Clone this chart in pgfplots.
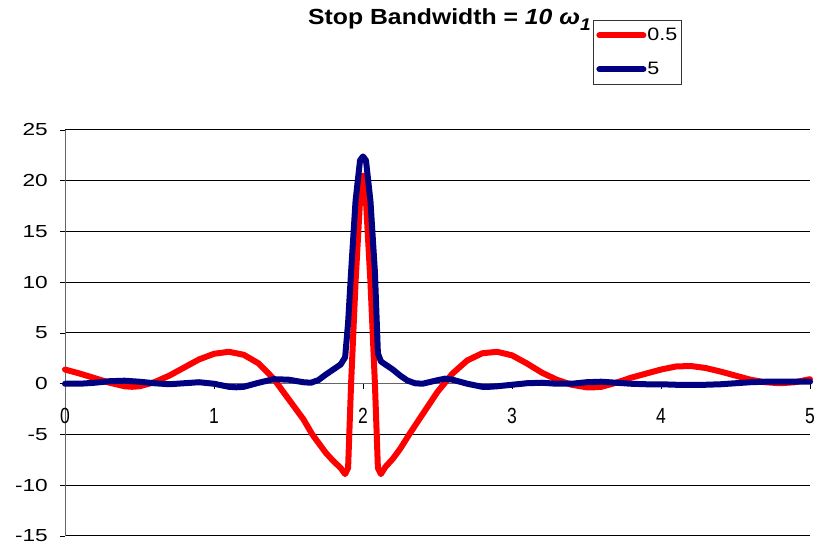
\documentclass[border=0pt]{standalone}
\usepackage{graphicx}
\usepackage{pgfplots}
\pgfplotsset{compat=1.18}
\usepackage{fontspec}
\setmainfont{Liberation Sans}
\definecolor{cred}{RGB}{255,0,0}
\definecolor{cblue}{RGB}{0,0,128}
\begin{document}
\begin{tikzpicture}
\path[use as bounding box] (0,0) rectangle (821bp,545bp);
\begin{axis}[
  at={(65bp,9bp)}, anchor=south west,
  scale only axis, width=745bp, height=406bp,
  xmin=0, xmax=5, ymin=-15, ymax=25,
  axis x line=middle, axis y line=left,
  hide obscured x ticks=false,
  axis line style={draw=gray!80!black, line width=1bp, -},
  xtick={0,1,2,3,4,5}, ytick={-15,-10,...,25},
  tick align=outside, major tick length=5bp,
  tick style={draw=black, line width=0.8bp},
  ymajorgrids, grid style={black, line width=1bp},
  /pgf/number format/assume math mode=true,
  xticklabel={\scalebox{0.8}[1]{\axisdefaultticklabel}},
  yticklabel={\scalebox{1.3}[1]{\axisdefaultticklabel}},
  xticklabel style={font=\fontsize{22}{26}\selectfont, yshift=-19bp, inner sep=0pt, anchor=north},
  yticklabel style={font=\fontsize{17.5}{20}\selectfont, inner sep=0pt, xshift=-12bp, anchor=east},
  title={\scalebox{1.13}[1]{\fontsize{22}{26}\selectfont\bfseries Stop Bandwidth = \itshape 10 \char"03C9\raisebox{-0.28em}{\fontsize{17}{20}\selectfont 1}}},
  title style={at={(0.3262,1.2463)}, anchor=base west, inner sep=0pt},
  legend style={at={(0.7087,1.271)}, anchor=north west, draw=black!80, line width=0.8bp,
    inner xsep=3bp, inner ysep=7bp, row sep=18bp, column sep=0bp,
    nodes={inner sep=1bp},
    font=\fontsize{18}{20}\selectfont, cells={anchor=west}},
  legend image code/.code={\draw[#1, line width=6bp, line cap=round] (3bp,0bp) -- (47bp,0bp);},
  every axis plot/.append style={line width=6bp, line join=round, line cap=round},
  clip=false,
]
\addplot[cred] coordinates {
(0,1.4) (0.1,1.0) (0.2,0.55) (0.3,0.1) (0.4,-0.25) (0.45,-0.3) (0.5,-0.25) (0.6,0.15) (0.7,0.8) (0.8,1.6) (0.9,2.4) (1.0,2.95) (1.1,3.15) (1.2,2.85) (1.3,2.0) (1.4,0.5) (1.5,-1.5) (1.6,-3.5) (1.66,-5) (1.7,-5.8) (1.75,-6.8) (1.8,-7.6) (1.85,-8.3) (1.88,-8.9) (1.9,-8.3) (1.92,0) (1.95,10) (1.98,18) (2.0,20.5) (2.02,18) (2.05,10) (2.08,0) (2.1,-8.3) (2.12,-8.9) (2.15,-8.2) (2.2,-7.4) (2.25,-6.4) (2.31,-5) (2.4,-3.0) (2.5,-0.8) (2.6,1.0) (2.7,2.3) (2.8,3.0) (2.9,3.15) (3.0,2.8) (3.1,2.0) (3.2,1.1) (3.3,0.4) (3.4,-0.1) (3.5,-0.35) (3.55,-0.35) (3.6,-0.3) (3.7,0.1) (3.8,0.6) (3.9,1.0) (4.0,1.4) (4.1,1.7) (4.2,1.75) (4.3,1.55) (4.4,1.2) (4.5,0.8) (4.6,0.4) (4.7,0.15) (4.8,0.05) (4.9,0.15) (5.0,0.45)
};
\addlegendentry{\scalebox{1.2}[1]{0.5}}
\addplot[cblue] coordinates {
(0,0) (0.1,0) (0.2,0.1) (0.3,0.25) (0.4,0.3) (0.5,0.2) (0.6,0.05) (0.7,-0.05) (0.8,0.05) (0.9,0.15) (1.0,0.0) (1.1,-0.3) (1.15,-0.35) (1.2,-0.3) (1.3,0.1) (1.4,0.45) (1.5,0.4) (1.6,0.15) (1.65,0.1) (1.7,0.35) (1.75,0.9) (1.8,1.4) (1.85,1.9) (1.88,2.6) (1.9,6) (1.92,11) (1.95,18) (1.98,22) (2.0,22.4) (2.02,22) (2.05,18) (2.08,11) (2.1,3) (2.12,2.2) (2.15,1.9) (2.2,1.4) (2.25,0.8) (2.3,0.3) (2.35,0.05) (2.4,0.0) (2.5,0.35) (2.55,0.5) (2.6,0.4) (2.7,0.0) (2.8,-0.3) (2.85,-0.3) (2.9,-0.25) (3.0,-0.1) (3.1,0.05) (3.2,0.1) (3.3,0.0) (3.4,0.0) (3.5,0.15) (3.6,0.2) (3.7,0.1) (3.8,0.0) (3.9,-0.05) (4.0,-0.05) (4.1,-0.1) (4.2,-0.1) (4.3,-0.1) (4.4,-0.05) (4.5,0.05) (4.6,0.15) (4.7,0.2) (4.8,0.2) (4.9,0.2) (5.0,0.2)
};
\addlegendentry{\scalebox{1.2}[1]{5}}
\end{axis}
\end{tikzpicture}
\end{document}
